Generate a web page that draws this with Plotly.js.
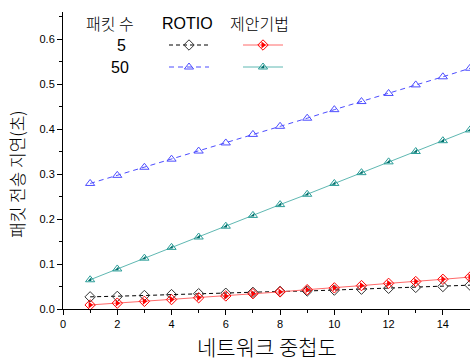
<!DOCTYPE html>
<html><head><meta charset="utf-8">
<script src="https://cdn.plot.ly/plotly-3.0.1.min.js"></script>
<style>html,body{margin:0;padding:0;background:#fff}#chart{width:470px;height:361px}</style>
</head><body><div id="chart"></div>
<script>
const overlap = [1,2,3,4,5,6,7,8,9,10,11,12,13,14,15];
const rotio5 = [0.027,0.028,0.030,0.032,0.034,0.035,0.037,0.039,0.040,0.042,0.044,0.046,0.048,0.050,0.053];
const proposed5 = [0.009,0.013,0.017,0.021,0.025,0.029,0.034,0.038,0.043,0.047,0.052,0.057,0.061,0.066,0.071];
const rotio50 = [0.279,0.297,0.315,0.333,0.351,0.369,0.388,0.406,0.424,0.443,0.461,0.479,0.498,0.516,0.535];
const proposed50 = [0.065,0.089,0.113,0.137,0.160,0.184,0.208,0.232,0.255,0.279,0.303,0.327,0.350,0.374,0.398];
const xTitle = '네트워크 중첩도';
const yTitle = '패킷 전송 지연(초)';
const legendHeaders = ['패킷 수','ROTIO','제안기법'];
const legendRows = ['5','50'];

const KR = '"Noto Sans CJK KR", sans-serif';
const AR = 'Liberation Sans, Arial, sans-serif';

// each series: line style, base (outline) marker, optional half-fill overlay marker
const styles = {
  r5: {line:{color:'#000',width:1,dash:'4px,3px'}, m:{symbol:'diamond-open',size:8,color:'#333',line:{width:1}}},
  p5: {line:{color:'#ff6a6a',width:1}, m:{symbol:'diamond-open',size:8,color:'#ff0000',line:{width:1}},
       fill:{symbol:'triangle-right',size:6,color:'#ff0000',line:{width:0}}},
  r50:{line:{color:'#4d4dff',width:1,dash:'5px,4px'}, m:{symbol:'triangle-up-open',size:8,color:'#4d4dff',line:{width:1}}},
  p50:{line:{color:'#5fb8b2',width:1}, m:{symbol:'triangle-up-open',size:8,color:'#2a9d98',line:{width:1}},
       fill:{symbol:'triangle-se',size:4,color:'#006f6c',line:{width:0}}}
};

function base(x,y,xa,ya){return {x:x,y:y,type:'scatter',showlegend:false,hoverinfo:'skip',xaxis:xa||'x',yaxis:ya||'y',cliponaxis:false};}
function series(x,y,s){
  const out=[Object.assign(base(x,y),{mode:'lines+markers',line:s.line,marker:s.m})];
  if(s.fill) out.push(Object.assign(base(x,y),{mode:'markers',marker:s.fill}));
  return out;
}
function sample(xs,yv,s){
  const ys=xs.map(()=>yv);
  const out=[Object.assign(base(xs,ys,'x2','y2'),{mode:'lines',line:s.line}),
             Object.assign(base([xs[1]],[yv],'x2','y2'),{mode:'markers',marker:s.m})];
  if(s.fill) out.push(Object.assign(base([xs[1]],[yv],'x2','y2'),{mode:'markers',marker:s.fill}));
  return out;
}

const data = [].concat(
  series(overlap,rotio5,styles.r5),
  series(overlap,rotio50,styles.r50),
  series(overlap,proposed5,styles.p5),
  series(overlap,proposed50,styles.p50),
  sample([169,189,209],45,styles.r5),
  sample([243,263,283],45,styles.p5),
  sample([169,189,209],67,styles.r50),
  sample([243,263,283],67,styles.p50)
);

const C = {showarrow:false,xanchor:'center',yanchor:'middle'};
const annotations = [
  Object.assign({xref:'x2',yref:'y2',x:110,y:23,text:legendHeaders[0],font:{family:KR,size:16,color:'#000',weight:300}},C),
  Object.assign({xref:'x2',yref:'y2',x:187,y:23,text:legendHeaders[1],font:{family:AR,size:16,color:'#000'}},C),
  Object.assign({xref:'x2',yref:'y2',x:259,y:23,text:legendHeaders[2],font:{family:KR,size:16,color:'#000',weight:300}},C),
  Object.assign({xref:'x2',yref:'y2',x:121,y:45,text:legendRows[0],font:{family:AR,size:16,color:'#000'}},C),
  Object.assign({xref:'x2',yref:'y2',x:120,y:67,text:legendRows[1],font:{family:AR,size:16,color:'#000'}},C),
  Object.assign({xref:'paper',yref:'paper',x:(16-63)/407,y:(309-174)/297,text:yTitle,textangle:-90,font:{family:KR,size:17,color:'#000',weight:300}},C),
  Object.assign({xref:'paper',yref:'paper',x:(267-63)/407,y:(309-346)/297,text:xTitle,font:{family:KR,size:21,color:'#000',weight:300}},C)
];

const layout = {
  width:470,height:361,
  margin:{l:63,r:0,t:12,b:52},
  paper_bgcolor:'#fff',plot_bgcolor:'#fff',
  showlegend:false,
  font:{family:AR,size:11,color:'#000'},
  xaxis:{range:[0,15],dtick:2,tick0:0,showgrid:false,zeroline:false,showline:true,linecolor:'#000',linewidth:1,
    ticks:'outside',ticklen:5,tickcolor:'#000',tickfont:{family:AR,size:11},
    minor:{dtick:1,ticks:'outside',ticklen:3,tickcolor:'#000'}},
  yaxis:{range:[0,0.66],dtick:0.1,tick0:0,tickformat:'.1f',showgrid:false,zeroline:false,showline:true,linecolor:'#000',linewidth:1,
    ticks:'outside',ticklen:5,tickcolor:'#000',tickfont:{family:AR,size:11},
    minor:{dtick:0.05,ticks:'outside',ticklen:3,tickcolor:'#000'}},
  xaxis2:{overlaying:'x',range:[63,470],visible:false,anchor:'y2'},
  yaxis2:{overlaying:'y',range:[309,12],visible:false,anchor:'x2'},
  annotations:annotations
};
Plotly.newPlot('chart',data,layout,{staticPlot:true});
</script></body></html>
